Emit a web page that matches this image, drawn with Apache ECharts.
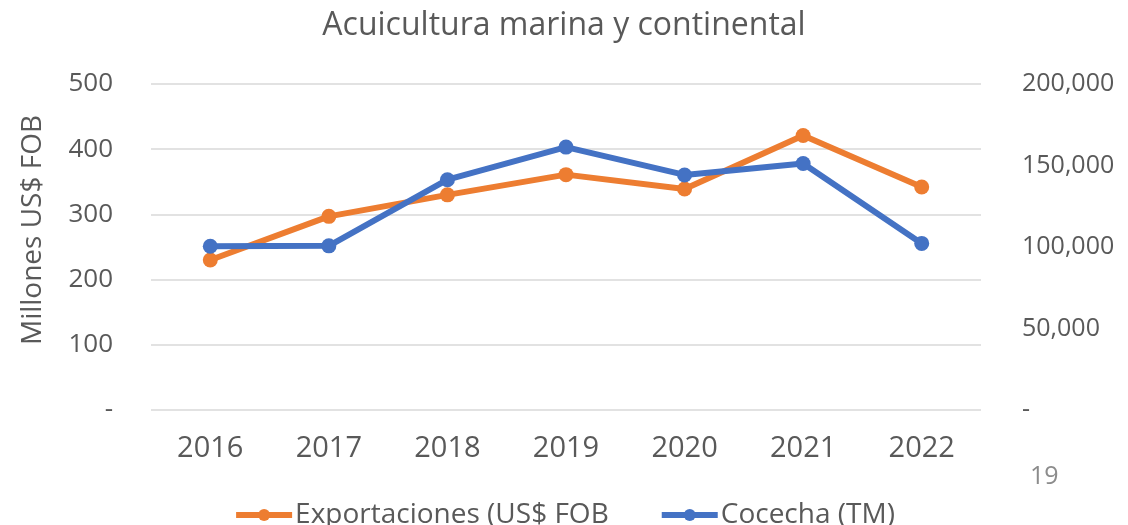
<!DOCTYPE html>
<html><head><meta charset="utf-8">
<script src="https://cdn.jsdelivr.net/npm/echarts@6/dist/echarts.min.js"></script>
<style>html,body{margin:0;padding:0;background:#fff}#c{width:1128px;height:525px}</style>
</head><body><div id="c"></div>
<script>
const categories = ['2016','2017','2018','2019','2020','2021','2022'];
const exportaciones = [230, 297, 330, 361, 339, 421, 342];
const cosecha = [100500, 100700, 141300, 161300, 144200, 151200, 102200];
const leftTicks = [0, 100, 200, 300, 400, 500];
const rightTicks = [0, 50000, 100000, 150000, 200000];

const FONT = '"Open Sans", sans-serif';
const TXT = '#595959';
const chart = echarts.init(document.getElementById('c'), null, {renderer:'canvas'});
chart.setOption({
  animation: false,
  backgroundColor: '#fff',
  title: {text: 'Acuicultura marina y continental', left: 'center', top: 5,
    textStyle: {fontFamily: FONT, fontSize: 32, fontWeight: 'normal', color: TXT}},
  legend: {bottom: -9, left: 'center', itemGap: 50, itemWidth: 56, itemHeight: 15,
    lineStyle: {width: 6},
    textStyle: {fontFamily: FONT, fontSize: 28, color: TXT, padding: [0,0,0,-2]},
    data: ['Exportaciones (US$ FOB', 'Cocecha (TM)']},
  grid: {left: 151, right: 147, top: 84, bottom: 115, outerBoundsMode: 'none', containLabel: false},
  graphic: [{type: 'text', left: 1030, top: 464,
    style: {text: '19', font: '25px ' + FONT, fill: '#8c8c8c'}}],
  xAxis: {type: 'category', data: categories, boundaryGap: true,
    axisLine: {show: false}, axisTick: {show: false},
    axisLabel: {fontFamily: FONT, fontSize: 29, color: TXT, margin: 24}},
  yAxis: [
    {type: 'value', min: 0, max: 500, interval: 100,
     name: 'Millones US$ FOB', nameLocation: 'middle', nameGap: 104, nameRotate: 90,
     nameTextStyle: {fontFamily: FONT, fontSize: 28, color: TXT, padding: [0,0,0,34]},
     axisLine: {show: false}, axisTick: {show: false},
     splitLine: {lineStyle: {color: '#d9d9d9', width: 1.5}},
     axisLabel: {fontFamily: FONT, fontSize: 26, color: TXT, margin: 38,
       formatter: v => v === 0 ? '-' : String(v)}},
    {type: 'value', min: 0, max: 200000, interval: 50000, position: 'right',
     axisLine: {show: false}, axisTick: {show: false}, splitLine: {show: false},
     axisLabel: {fontFamily: FONT, fontSize: 25, color: TXT, margin: 41, align: 'left',
       formatter: v => v === 0 ? '-' : v.toLocaleString('en-US')}}
  ],
  series: [
    {name: 'Exportaciones (US$ FOB', type: 'line', yAxisIndex: 0, data: exportaciones,
     symbol: 'circle', symbolSize: 15, lineStyle: {width: 6, color: '#ED7D31'},
     itemStyle: {color: '#ED7D31'}},
    {name: 'Cocecha (TM)', type: 'line', yAxisIndex: 1, data: cosecha,
     symbol: 'circle', symbolSize: 15, lineStyle: {width: 6, color: '#4472C4'},
     itemStyle: {color: '#4472C4'}}
  ]
});
</script></body></html>
